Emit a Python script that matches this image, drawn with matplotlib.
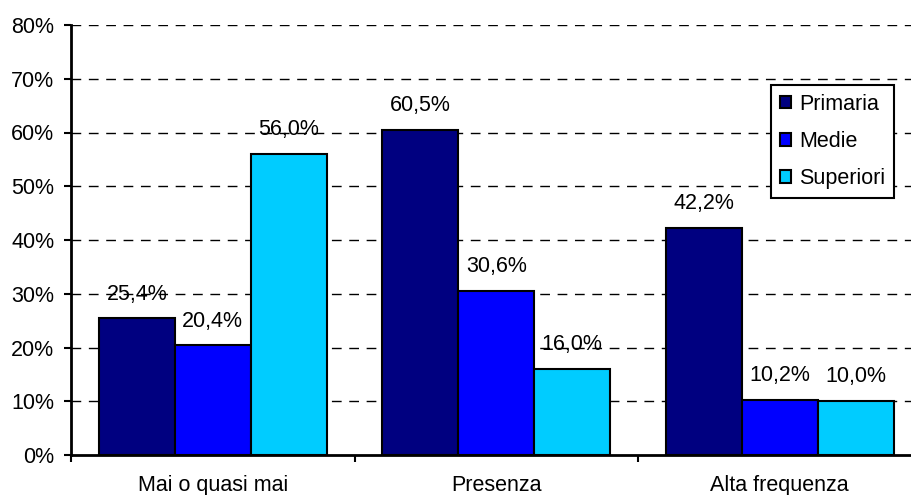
import matplotlib.pyplot as plt
import numpy as np

plt.rcParams['font.family'] = ['Liberation Sans', 'DejaVu Sans']

categories = ['Mai o quasi mai', 'Presenza', 'Alta frequenza']
series = ['Primaria', 'Medie', 'Superiori']
primaria = [25.4, 60.5, 42.2]
medie = [20.4, 30.6, 10.2]
superiori = [56.0, 16.0, 10.0]
colors = ['#000080', '#0000FF', '#00CCFF']

fig = plt.figure(figsize=(9.12, 4.95), dpi=100)
ax = fig.add_axes([71 / 912, 40 / 495, 850.5 / 912, 430 / 495])

x = np.arange(len(categories))
width = 0.268
fs = 15.5
for i, (vals, name) in enumerate(zip([primaria, medie, superiori], series)):
    pos = x + (i - 1) * width
    ax.bar(pos, vals, width, color=colors[i], edgecolor='black',
           linewidth=1.5, label=name, zorder=3)
    for xp, v in zip(pos, vals):
        ax.annotate(f'{v:.1f}%'.replace('.', ','), (xp, v), xytext=(0, 17.5),
                    textcoords='offset points', ha='center', va='center',
                    fontsize=fs, zorder=4)

ax.set_xlim(-0.5, 2.5)
ax.set_ylim(0, 80)
ax.set_yticks(range(0, 81, 10))
ax.set_yticklabels([f'{t}%' for t in range(0, 81, 10)])
for t in range(10, 81, 10):
    ax.axhline(t, color='black', linewidth=1, dashes=(7, 5.5), zorder=1)

ax.set_xticks([-0.5, 0.5, 1.5, 2.5])
ax.set_xticklabels([])
ax.set_xticks(x, minor=True)
ax.set_xticklabels(categories, minor=True)
ax.tick_params(axis='x', which='minor', length=0, pad=14.5, labelsize=fs)
ax.tick_params(axis='x', which='major', length=5, width=1.5)
ax.tick_params(axis='y', length=5, width=1.5, pad=7, labelsize=fs)

for s in ['top', 'right']:
    ax.spines[s].set_visible(False)
for s in ['left', 'bottom']:
    ax.spines[s].set_linewidth(2)

leg = ax.legend(loc='upper left', bbox_to_anchor=(771 / 912, 1 - 85 / 495),
                bbox_transform=fig.transFigure, borderaxespad=0,
                fancybox=False, framealpha=1, edgecolor='black',
                fontsize=fs, handlelength=0.55, handleheight=0.55,
                handletextpad=0.35, labelspacing=0.75, borderpad=0.4)
leg.get_frame().set_linewidth(1.5)

fig.savefig('out.png', dpi=100)
